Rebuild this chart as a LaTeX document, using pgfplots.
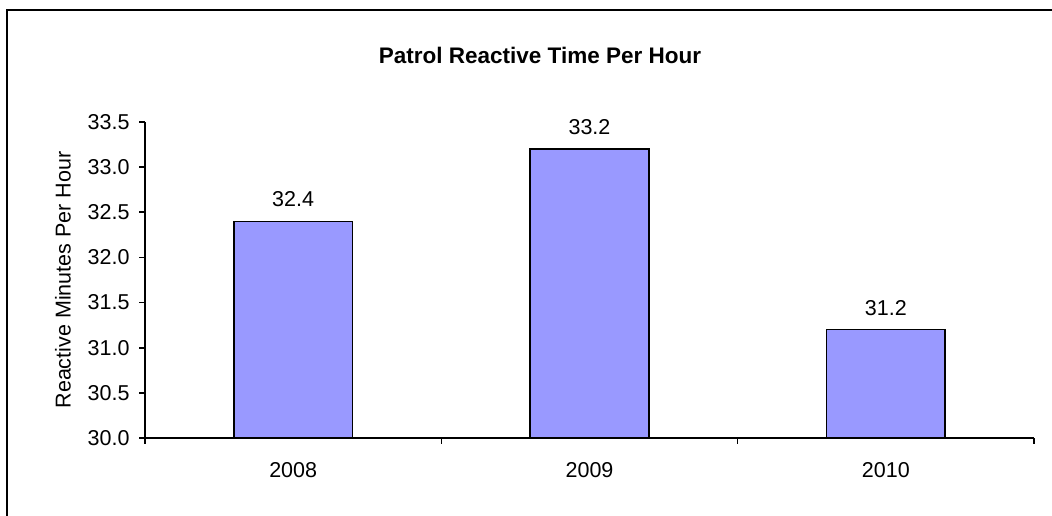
\documentclass[border=0pt]{standalone}
\usepackage{fontspec}
\setmainfont{Liberation Sans}
\usepackage{pgfplots}
\pgfplotsset{compat=1.18}
\definecolor{barblue}{HTML}{9999FF}
\begin{document}
\begin{tikzpicture}[x=1bp,y=1bp]
\path[use as bounding box] (0,0) rectangle (1052,516);
\draw[line width=2bp] (7,0) -- (7,506) -- (1052,506);
\node[font=\fontsize{22.5bp}{26bp}\selectfont\bfseries] at (540,461) {Patrol Reactive Time Per Hour};
\begin{axis}[
  at={(145bp,78bp)}, anchor=south west,
  scale only axis, width=889bp, height=316bp,
  xmin=-0.5, xmax=2.5, ymin=30, ymax=33.5,
  axis x line*=bottom, axis y line*=left,
  axis line style={-, line width=1.6bp},
  ytick={30,30.5,...,33.5},
  yticklabel style={xshift=-6bp, /pgf/number format/.cd, fixed, fixed zerofill, precision=1},
  /pgf/number format/assume math mode=true,
  xtick={0,1,2}, xticklabels={2008,2009,2010},
  minor xtick={-0.5,0.5,1.5,2.5},
  major x tick style={draw=none},
  tick align=outside, tick style={black, line width=1.6bp},
  major tick length=6bp, minor tick length=6bp,
  ticklabel style={font=\fontsize{21.5bp}{24bp}\selectfont},
  xticklabel style={yshift=-15bp},
  ylabel={Reactive Minutes Per Hour},
  every axis y label/.style={at={(-82bp,0.5)}, rotate=90, anchor=center, font=\fontsize{21.5bp}{24bp}\selectfont},
  bar width=0.4,
  nodes near coords,
  every node near coord/.append style={font=\fontsize{21.5bp}{24bp}\selectfont, yshift=10bp},
  nodes near coords style={/pgf/number format/.cd, fixed, fixed zerofill, precision=1},
  clip=false,
]
\addplot[ybar, fill=barblue, draw=black, line width=1.6bp] coordinates {(0,32.4) (1,33.2) (2,31.2)};
\end{axis}
\end{tikzpicture}
\end{document}
